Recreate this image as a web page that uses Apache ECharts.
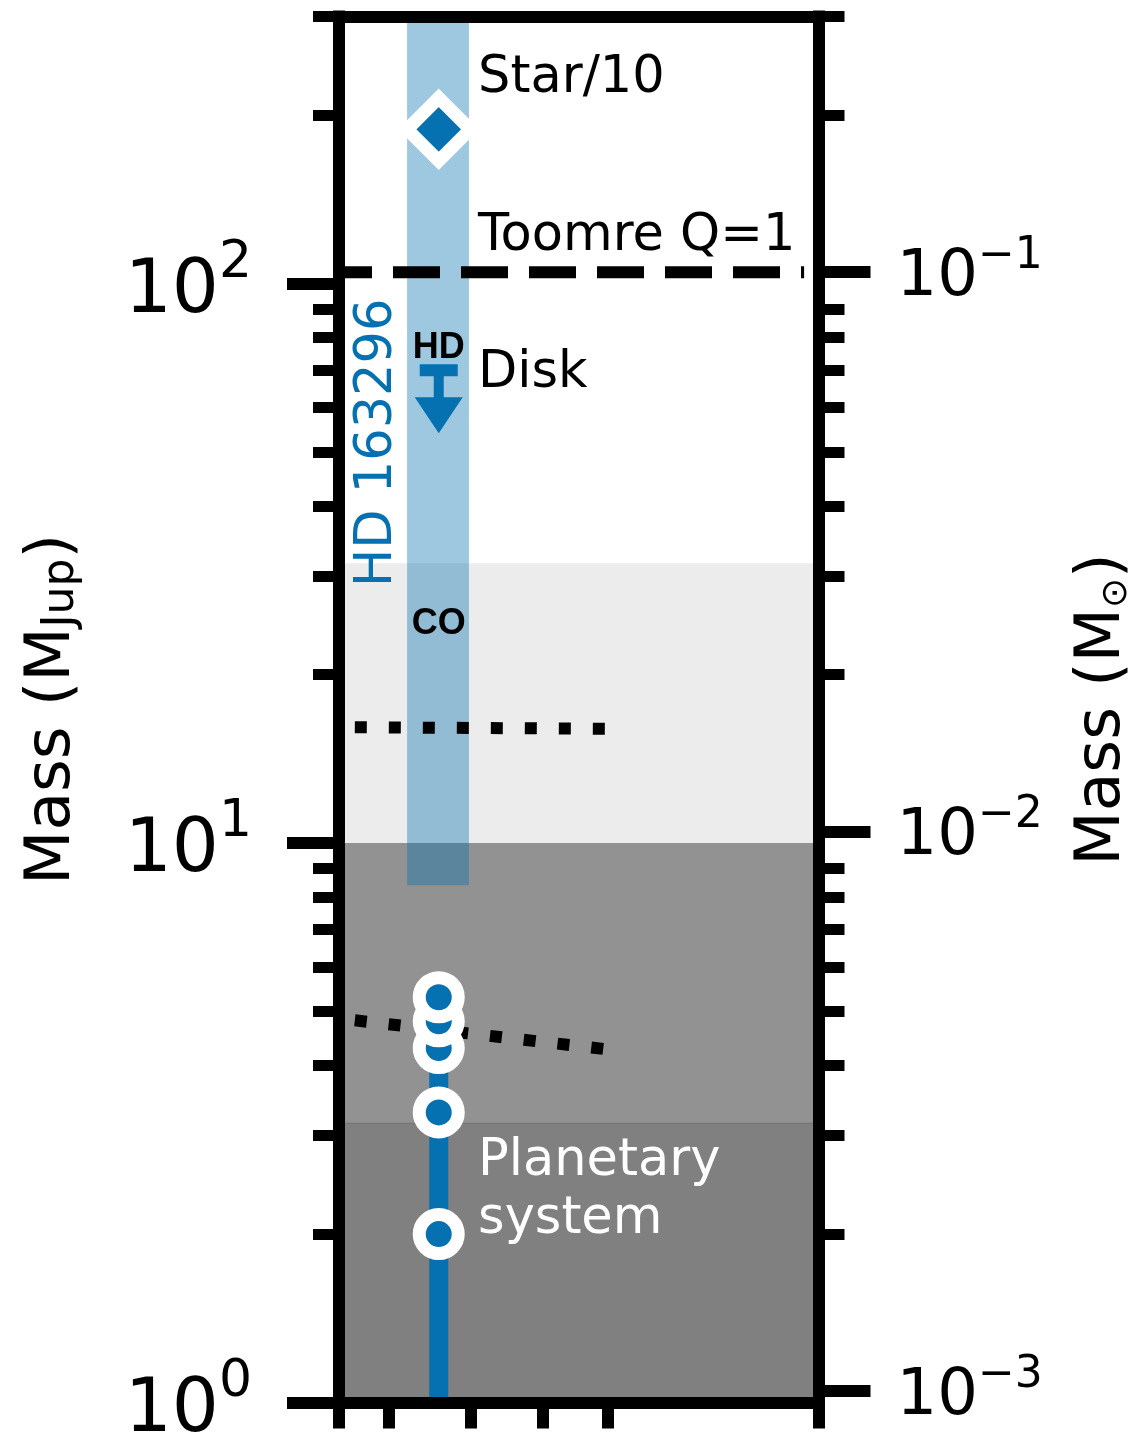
<!DOCTYPE html>
<html>
<head>
<meta charset="utf-8">
<script src="https://cdn.jsdelivr.net/npm/echarts@6/dist/echarts.min.js"></script>
<style>
  html, body { margin: 0; padding: 0; background: #fff; }
  #chart { width: 1137px; height: 1435px; }
</style>
</head>
<body>
<div id="chart"></div>
<script>
// masses in Jupiter masses, left axis; right axis is the same range in solar masses
const MJUP_PER_MSUN = 1047.6;
const massRange = [1, 300];
const majorTicks = [1, 10, 100];
const minorTicks = [2, 3, 4, 5, 6, 7, 8, 9, 20, 30, 40, 50, 60, 70, 80, 90, 200, 300];
const sunMajorTicks = [0.001, 0.01, 0.1];

// horizontal position is a dimensionless 0..100 strip
const xRange = [0, 100];
const xTicks = [0, 10.4, 27.5, 42.5, 56.1, 100];

// shaded mass regimes (bottom, top)
const regimeEdges = [[1, 3.162], [3.162, 10], [10, 31.62]];
const regimeColors = ['#808080', '#929292', '#ececec'];

// HD 163296 column
const columnX = 20.8;
const bandX = [14.2, 27.1];
const bandMass = [8.4, 300];
const starMass = [188.6];          // Star/10
const toomreSun = 0.1;             // Toomre Q=1 in M_sun
const toomreX = [0, 97.0];
const hdLimit = [70];              // HD upper limit
const planetMasses = [2.0, 3.3, 4.3, 4.8, 5.3];
const planetLine = [1, 5.3];

// dotted lines
const coLineX = [3.3, 56.1];
const coLineMass = [16.1, 16.0];
const pLineX = [3.3, 55.7];
const pLineMass = [4.82, 4.28];

// annotations
const labelTexts = ['Star/10', 'Toomre Q=1', 'Disk', 'Planetary\nsystem', 'HD', 'CO', 'HD 163296'];
const labelX = [29.0, 29.0, 29.0, 29.0, 20.8, 20.8, 8.0];
const labelMass = [237, 123.6, 70.4, 2.44, 77.3, 24.8, 28.9];

const BLUE = '#0571b0';
const FONT = 'DejaVu Sans';

// dy: small nudge so the glyphs sit where the caps centre is
const labelStyles = [
  { color: '#000', size: 51, align: 'left', dy: 5 },
  { color: '#000', size: 51, align: 'left', dy: 5 },
  { color: '#000', size: 51, align: 'left', dy: 5 },
  { color: '#fff', size: 51, align: 'left', dy: 5 },
  { color: '#000', size: 36, align: 'center', bold: true, dy: 2 },
  { color: '#000', size: 36, align: 'center', bold: true, dy: 2 },
  { color: BLUE, size: 51, align: 'left', rotate: true, dy: 2 },
];

const spine = { show: true, onZero: false, lineStyle: { color: '#000', width: 12, cap: 'square' } };

const powLabel = (value) => {
  const exp = Math.round(Math.log10(value));
  return '{b|10}{s|' + String(exp).replace('-', '\u2212') + '}';
};

const chart = echarts.init(document.getElementById('chart'));

const option = {
  animation: false,
  backgroundColor: '#fff',
  grid: { left: 339, right: 318.5, top: 16.5, bottom: 32.5, outerBoundsMode: 'none' },
  xAxis: [
    {
      type: 'value', min: xRange[0], max: xRange[1], position: 'bottom', z: 10,
      axisLine: spine,
      axisTick: { show: true, customValues: xTicks, length: 26, lineStyle: { color: '#000', width: 12 } },
      axisLabel: { show: false },
      splitLine: { show: false },
    },
    {
      type: 'value', min: xRange[0], max: xRange[1], position: 'top', z: 10,
      axisLine: spine,
      axisTick: { show: false },
      axisLabel: { show: false },
      splitLine: { show: false },
    },
  ],
  yAxis: [
    {
      type: 'log', min: massRange[0], max: massRange[1], position: 'left', z: 10,
      axisLine: spine,
      axisTick: { show: true, customValues: majorTicks, length: 52, lineStyle: { color: '#000', width: 12 } },
      axisLabel: {
        customValues: majorTicks, margin: 87, formatter: powLabel,
        rich: {
          b: { fontSize: 74, fontFamily: FONT, color: '#000', lineHeight: 92, verticalAlign: 'bottom' },
          s: { fontSize: 52, fontFamily: FONT, color: '#000', lineHeight: 52, verticalAlign: 'top' },
        },
      },
      splitLine: { show: false },
      minorTick: { show: false },
      name: '{a|Mass (M}{b|Jup}{a|)}',
      nameLocation: 'middle',
      nameRotate: 90,
      nameGap: 255,
      nameTextStyle: {
        rich: {
          a: { fontSize: 63, fontFamily: FONT, color: '#000', lineHeight: 63 },
          b: { fontSize: 44, fontFamily: FONT, color: '#000', lineHeight: 24, verticalAlign: 'bottom' },
        },
      },
    },
    {
      // minor ticks, left
      type: 'log', min: massRange[0], max: massRange[1], position: 'left', z: 10,
      axisLine: { show: false, onZero: false },
      axisTick: { show: true, customValues: minorTicks, length: 26, lineStyle: { color: '#000', width: 11 } },
      axisLabel: { show: false },
      splitLine: { show: false },
    },
    {
      type: 'log', min: massRange[0] / MJUP_PER_MSUN, max: massRange[1] / MJUP_PER_MSUN, position: 'right', z: 10,
      axisLine: spine,
      axisTick: { show: true, customValues: sunMajorTicks, length: 52, lineStyle: { color: '#000', width: 12 } },
      axisLabel: {
        customValues: sunMajorTicks, margin: 78, formatter: powLabel,
        rich: {
          b: { fontSize: 64, fontFamily: FONT, color: '#000', lineHeight: 76, verticalAlign: 'bottom' },
          s: { fontSize: 44, fontFamily: FONT, color: '#000', lineHeight: 44, verticalAlign: 'top' },
        },
      },
      splitLine: { show: false },
      name: '{a|Mass (M}{b|\u2299}{a|)}',
      nameLocation: 'middle',
      nameRotate: 90,
      nameGap: 253,
      nameTextStyle: {
        rich: {
          a: { fontSize: 63, fontFamily: FONT, color: '#000', lineHeight: 63 },
          b: { fontSize: 36, fontFamily: FONT, color: '#000', lineHeight: 24, verticalAlign: 'bottom' },
        },
      },
    },
    {
      // minor ticks of the M_Jup scale, mirrored on the right
      type: 'log', min: massRange[0], max: massRange[1], position: 'right', z: 10,
      axisLine: { show: false, onZero: false },
      axisTick: { show: true, customValues: minorTicks, length: 26, lineStyle: { color: '#000', width: 11 } },
      axisLabel: { show: false },
      splitLine: { show: false },
    },
  ],
  series: [
    {
      // shaded regimes
      type: 'line', data: [], z: 1, silent: true,
      markArea: {
        silent: true,
        data: regimeEdges.map(([lo, hi], i) => [
          {
            yAxis: lo,
            itemStyle: {
              color: regimeColors[i],
              borderColor: i === 0 ? '#555' : regimeColors[i],
              borderWidth: i === 0 ? 1 : 0,
            },
          },
          { yAxis: hi },
        ]),
      },
    },
    {
      // HD 163296 column band
      type: 'line', data: [], z: 2, silent: true,
      markArea: {
        silent: true,
        itemStyle: { color: 'rgba(5,113,176,0.39)' },
        data: [[{ xAxis: bandX[0], yAxis: bandMass[0] }, { xAxis: bandX[1], yAxis: bandMass[1] }]],
      },
    },
    {
      // Toomre Q=1
      type: 'line', z: 3, symbol: 'none', silent: true,
      data: toomreX.map((x) => [x, toomreSun * MJUP_PER_MSUN]),
      lineStyle: { color: '#000', width: 12, type: [47, 21], dashOffset: 14, cap: 'butt' },
    },
    {
      type: 'line', z: 3, symbol: 'none', silent: true,
      data: coLineX.map((x, i) => [x, coLineMass[i]]),
      lineStyle: { color: '#000', width: 12, type: [12, 22], cap: 'butt' },
    },
    {
      type: 'line', z: 3, symbol: 'none', silent: true,
      data: pLineX.map((x, i) => [x, pLineMass[i]]),
      lineStyle: { color: '#000', width: 12, type: [12, 22], cap: 'butt' },
    },
    {
      // planetary system
      type: 'line', z: 4, symbol: 'none', silent: true,
      data: planetLine.map((m) => [columnX, m]),
      lineStyle: { color: BLUE, width: 19, cap: 'butt' },
    },
    {
      type: 'scatter', z: 5, silent: true,
      data: planetMasses.map((m) => [columnX, m]),
      symbol: 'circle', symbolSize: 39,
      itemStyle: { color: BLUE, borderColor: '#fff', borderWidth: 13, opacity: 1 },
    },
    {
      type: 'scatter', z: 5, silent: true,
      data: starMass.map((m) => [columnX, m]),
      symbol: 'diamond', symbolSize: 63,
      itemStyle: { color: BLUE, borderColor: '#fff', borderWidth: 13, borderJoin: 'miter', opacity: 1 },
    },
    {
      // HD upper limit (cap + arrow)
      type: 'custom', z: 5, silent: true,
      data: hdLimit.map((m) => [columnX, m]),
      renderItem: (params, api) => {
        const p = api.coord([api.value(0), api.value(1)]);
        return {
          type: 'group',
          children: [
            { type: 'rect', shape: { x: p[0] - 19, y: p[1] - 6, width: 38, height: 12 }, style: { fill: BLUE } },
            { type: 'rect', shape: { x: p[0] - 5, y: p[1] + 5, width: 10, height: 23 }, style: { fill: BLUE } },
            {
              type: 'polygon',
              shape: { points: [[p[0] - 24, p[1] + 27], [p[0] + 24, p[1] + 27], [p[0], p[1] + 63]] },
              style: { fill: BLUE },
            },
          ],
        };
      },
    },
    {
      // text annotations
      type: 'custom', z: 6, silent: true,
      data: labelTexts.map((t, i) => [labelX[i], labelMass[i]]),
      renderItem: (params, api) => {
        const i = params.dataIndex;
        const s = labelStyles[i];
        const p = api.coord([api.value(0), api.value(1)]);
        return {
          type: 'text',
          x: p[0],
          y: p[1] + s.dy,
          rotation: s.rotate ? Math.PI / 2 : 0,
          style: {
            text: labelTexts[i],
            fill: s.color,
            fontSize: s.size,
            fontFamily: s.bold ? 'Liberation Sans' : FONT,
            fontWeight: s.bold ? 'bold' : 'normal',
            align: s.align,
            verticalAlign: 'middle',
            lineHeight: 58,
          },
        };
      },
    },
  ],
};

chart.setOption(option);
</script>
</body>
</html>
